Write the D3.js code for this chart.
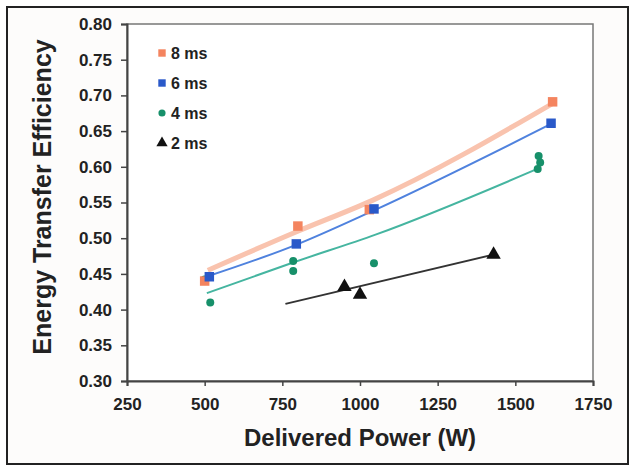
<!DOCTYPE html>
<html lang="en">
<head>
<meta charset="UTF-8">
<title>Energy Transfer Efficiency</title>
<script src="https://d3js.org/d3.v7.min.js"></script>
<style>
  body { margin: 0; background: #fff; }
  text { font-family: "Liberation Sans", Arial, sans-serif; font-weight: bold; fill: #222; }
</style>
</head>
<body>
<svg width="636" height="470"></svg>
<script>
// tick labels
var xTicks = [250, 500, 750, 1000, 1250, 1500, 1750];
var yTicks = [0.30, 0.35, 0.40, 0.45, 0.50, 0.55, 0.60, 0.65, 0.70, 0.75, 0.80];

// measured points per pulse width
var series = ["8 ms", "6 ms", "4 ms", "2 ms"];
var pts8 = [[500, 0.440], [800, 0.517], [1030, 0.540], [1620, 0.691]];
var pts6 = [[515, 0.446], [795, 0.492], [1045, 0.541], [1615, 0.661]];
var pts4 = [[500, 0.442], [518, 0.410], [785, 0.468], [785, 0.454], [1045, 0.465],
            [1575, 0.615], [1580, 0.606], [1572, 0.597]];
var pts2 = [[950, 0.432], [1000, 0.421], [1430, 0.477]];

// trend lines
var fit8 = [[510, 0.455], [790, 0.508], [1040, 0.553], [1625, 0.690]];
var fit6 = [[512, 0.447], [790, 0.490], [1040, 0.538], [1615, 0.660]];
var fit4 = [[507, 0.423], [785, 0.466], [1050, 0.505], [1565, 0.596]];
var fit2 = [[760, 0.408], [1430, 0.477]];

var markerColors = ["#f4845f", "#2a59c9", "#17906a", "#111111"];
var lineColors = ["#f9c3ae", "#4f82de", "#45b5a0", "#333333"];

var svg = d3.select("svg");
var plotL = 127, plotR = 593, plotT = 24, plotB = 381;

var x = d3.scaleLinear().domain([250, 1750]).range([plotL, plotR]);
var y = d3.scaleLinear().domain([0.30, 0.80]).range([plotB, plotT]);

// outer frame
svg.append("rect").attr("x", 7).attr("y", 7).attr("width", 621).attr("height", 457)
  .attr("fill", "#fdfcfb").attr("stroke", "#222").attr("stroke-width", 2);

// plot area
svg.append("rect").attr("x", plotL).attr("y", plotT).attr("width", plotR - plotL).attr("height", plotB - plotT)
  .attr("fill", "#fff").attr("stroke", "#777").attr("stroke-width", 1.5);

var yAxis = svg.append("g").attr("transform", "translate(" + plotL + ",0)")
  .call(d3.axisLeft(y).tickValues(yTicks).tickSize(6).tickPadding(9).tickFormat(d3.format(".2f")));
var xAxis = svg.append("g").attr("transform", "translate(0," + plotB + ")")
  .call(d3.axisBottom(x).tickValues(xTicks).tickSize(5).tickPadding(12).tickFormat(d3.format("d")));

[yAxis, xAxis].forEach(function(a) {
  a.selectAll("text").style("font-size", "17px").style("font-family", "Liberation Sans, Arial")
    .style("font-weight", "bold").attr("fill", "#333");
  a.select(".domain").attr("stroke", "#444").attr("stroke-width", 2);
  a.selectAll(".tick line").attr("stroke", "#444").attr("stroke-width", 1.5);
});

// axis titles
svg.append("text").attr("x", 360).attr("y", 446).attr("text-anchor", "middle")
  .style("font-size", "24px").text("Delivered Power (W)");
svg.append("text").attr("transform", "translate(51,197) rotate(-90)").attr("text-anchor", "middle")
  .style("font-size", "25px").text("Energy Transfer Efficiency");

// trend lines
var line = d3.line().x(function(d) { return x(d[0]); }).y(function(d) { return y(d[1]); })
  .curve(d3.curveMonotoneX);
var fits = [fit8, fit6, fit4, fit2];
var widths = [5, 2, 2, 2];
fits.forEach(function(f, i) {
  svg.append("path").datum(f).attr("d", line).attr("fill", "none")
    .attr("stroke", lineColors[i]).attr("stroke-width", widths[i]);
});

// markers
var shapes = [d3.symbolSquare, d3.symbolSquare, d3.symbolCircle, d3.symbolTriangle];
var sizes = [90, 90, 50, 90];
var allPts = [pts8, pts6, pts4, pts2];
// draw 4 ms first so the 6 ms square sits on top like in the picture
[2, 0, 1, 3].forEach(function(i) {
  svg.append("g").selectAll("path").data(allPts[i]).enter().append("path")
    .attr("transform", function(d) { return "translate(" + x(d[0]) + "," + y(d[1]) + ")"; })
    .attr("d", d3.symbol().type(shapes[i]).size(sizes[i]))
    .attr("fill", markerColors[i]);
});

// legend
var legend = svg.append("g").selectAll("g").data(series).enter().append("g")
  .attr("transform", function(d, i) { return "translate(162," + (53 + i * 30) + ")"; });
legend.append("path")
  .attr("d", function(d, i) { return d3.symbol().type(shapes[i]).size(i == 2 ? 40 : 55)(); })
  .attr("fill", function(d, i) { return markerColors[i]; });
legend.append("text").attr("x", 9).attr("y", 6).style("font-size", "16px").text(function(d) { return d; });
</script>
</body>
</html>
